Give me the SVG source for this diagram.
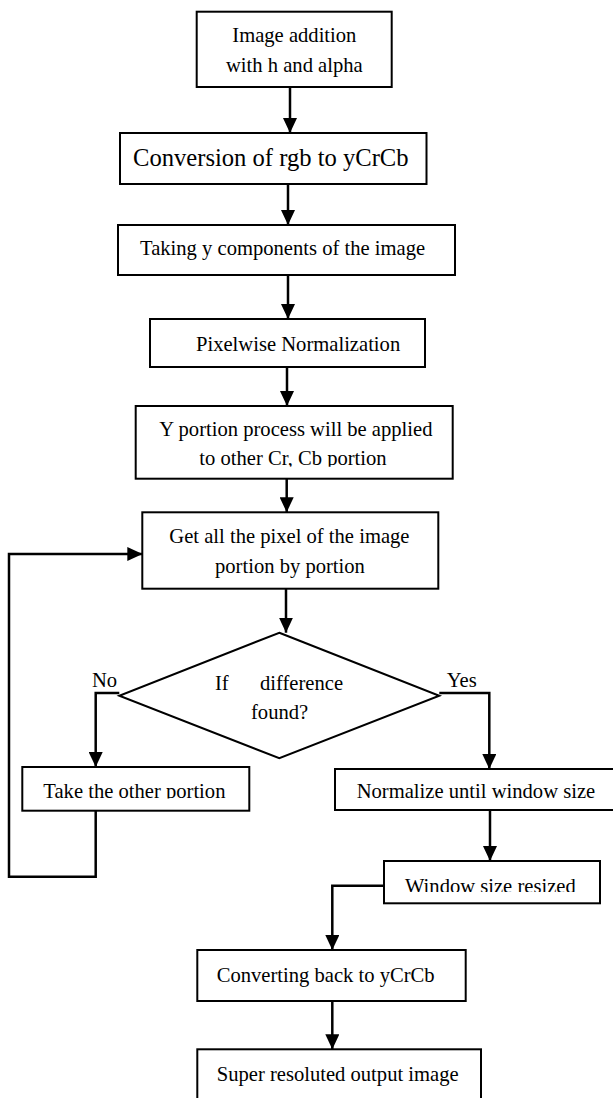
<svg xmlns="http://www.w3.org/2000/svg" width="613" height="1098" viewBox="0 0 613 1098">
<style>
.box{fill:#fff;stroke:#000;stroke-width:2}
.t{font-family:"Liberation Serif","Times New Roman",serif;font-size:20.6px;fill:#000}
.c{fill:none;stroke:#000;stroke-width:2.5}
</style>
<defs>
<marker id="ah" markerUnits="userSpaceOnUse" markerWidth="15" markerHeight="14" refX="15" refY="7" orient="auto">
<path d="M0,0 L15,7 L0,14 z" fill="#000"/>
</marker>
<clipPath id="cl5"><rect x="0" y="0" width="613" height="466.7"/></clipPath>
<clipPath id="cl7"><rect x="0" y="0" width="613" height="798.5"/></clipPath>
<clipPath id="cl9"><rect x="0" y="0" width="613" height="892"/></clipPath>
</defs>
<rect width="613" height="1098" fill="#fff"/>
<g id="connectors">
<path class="c" d="M290,87 V133" marker-end="url(#ah)"/>
<path class="c" d="M288,184 V225" marker-end="url(#ah)"/>
<path class="c" d="M288,275 V319" marker-end="url(#ah)"/>
<path class="c" d="M287,367 V406" marker-end="url(#ah)"/>
<path class="c" d="M286.7,478.7 V512.3" marker-end="url(#ah)"/>
<path class="c" d="M286,588.7 V632.7" marker-end="url(#ah)"/>
<path class="c" d="M119.3,693 H95.7 V767" marker-end="url(#ah)"/>
<path class="c" d="M439.3,693 H489.3 V769" marker-end="url(#ah)"/>
<path class="c" d="M95.7,810.7 V876.7 H9 V554 H142.3" marker-end="url(#ah)"/>
<path class="c" d="M490,810 V861" marker-end="url(#ah)"/>
<path class="c" d="M384,885.7 H332.3 V950" marker-end="url(#ah)"/>
<path class="c" d="M332.3,1001 V1049.3" marker-end="url(#ah)"/>
</g>
<g id="n1"><rect class="box" x="196.7" y="11.7" width="195" height="75.3"/>
<text class="t" x="232.3" y="41.7">Image addition</text><text class="t" x="226" y="71.7">with h and alpha</text></g>
<g id="n2"><rect class="box" x="120" y="133" width="306.5" height="51"/>
<text class="t" x="133" y="166" style="font-size:24.6px">Conversion of rgb to yCrCb</text></g>
<g id="n3"><rect class="box" x="118" y="225" width="337" height="50"/>
<text class="t" x="140" y="255">Taking y components of the image</text></g>
<g id="n4"><rect class="box" x="150" y="319" width="275" height="48"/>
<text class="t" x="196" y="350.7">Pixelwise Normalization</text></g>
<g id="n5"><rect class="box" x="135.7" y="406" width="317" height="72.7"/>
<text class="t" x="159.3" y="436">Y portion process will be applied</text>
<text class="t" x="199.3" y="465" clip-path="url(#cl5)">to other Cr, Cb portion</text></g>
<g id="n6"><rect class="box" x="142.3" y="512.3" width="296" height="76.4"/>
<text class="t" x="169.3" y="543.3">Get all the pixel of the image</text>
<text class="t" x="215" y="573.3">portion by portion</text></g>
<g id="n7"><polygon class="box" points="279.3,632.7 439.3,695.7 279.3,758.3 119.3,695.7"/>
<text class="t" x="215" y="690">If</text><text class="t" x="260" y="690">difference</text>
<text class="t" x="251" y="719">found?</text></g>
<g id="lblNo"><text class="t" x="92" y="687">No</text></g>
<g id="lblYes"><text class="t" x="446.7" y="687">Yes</text></g>
<g id="n8"><rect class="box" x="22.3" y="767" width="227" height="43.7"/>
<text class="t" x="43.3" y="797.5" clip-path="url(#cl7)">Take the other portion</text></g>
<g id="n9"><rect class="box" x="335" y="769" width="290" height="41"/>
<text class="t" x="356.7" y="798" clip-path="url(#cl7)">Normalize until window size</text></g>
<g id="n10"><rect class="box" x="384" y="861" width="216" height="42.3"/>
<text class="t" x="405" y="893" clip-path="url(#cl9)">Window size resized</text></g>
<g id="n11"><rect class="box" x="197.3" y="950" width="268.4" height="51"/>
<text class="t" x="216.7" y="981.7">Converting back to yCrCb</text></g>
<g id="n12"><rect class="box" x="197.3" y="1049.3" width="283.7" height="60"/>
<text class="t" x="216.7" y="1081">Super resoluted output image</text></g>
</svg>
